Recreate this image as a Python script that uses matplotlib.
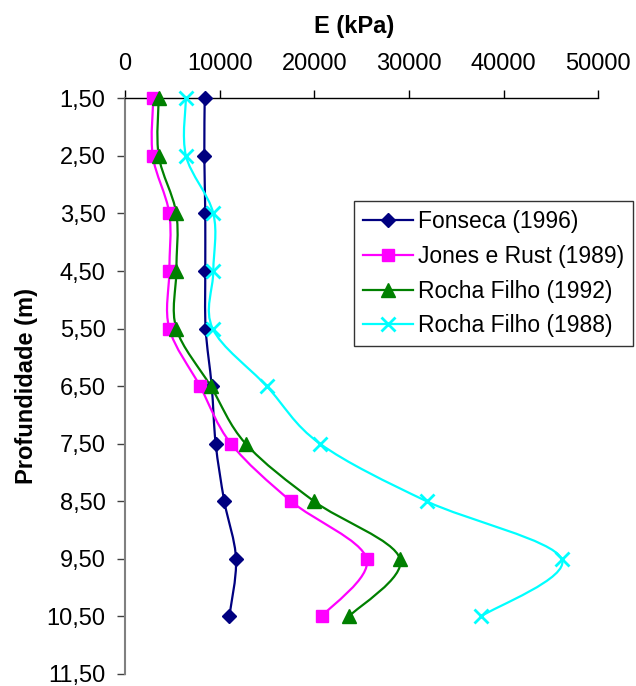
import matplotlib
matplotlib.use("Agg")
import matplotlib.pyplot as plt
from matplotlib.path import Path
from matplotlib.patches import PathPatch
from matplotlib.lines import Line2D
from matplotlib.ticker import FuncFormatter
import numpy as np

plt.rcParams['font.family'] = ['Liberation Sans', 'DejaVu Sans']

depth = [1.5, 2.5, 3.5, 4.5, 5.5, 6.5, 7.5, 8.5, 9.5, 10.5]
fonseca_1996 = [8420, 8380, 8480, 8480, 8520, 9160, 9580, 10490, 11730, 11020]
jones_rust_1989 = [2990, 2930, 4680, 4680, 4680, 7920, 11200, 17540, 25530, 20780]
rocha_filho_1992 = [3560, 3560, 5420, 5420, 5420, 9050, 12750, 19970, 29050, 23660]
rocha_filho_1988 = [6440, 6440, 9330, 9330, 9260, 14970, 20600, 31870, 46130, 37610]

series_names = ["Fonseca (1996)", "Jones e Rust (1989)", "Rocha Filho (1992)", "Rocha Filho (1988)"]
series_values = [fonseca_1996, jones_rust_1989, rocha_filho_1992, rocha_filho_1988]
colors = ["#000080", "#FF00FF", "#008000", "#00FFFF"]
markers = ["D", "s", "^", "x"]
msizes = [7, 9, 10, 10]

x_ticks = [0, 10000, 20000, 30000, 40000, 50000]
y_ticks = [1.5, 2.5, 3.5, 4.5, 5.5, 6.5, 7.5, 8.5, 9.5, 10.5, 11.5]


def smooth_path(xs, ys):
    pts = np.column_stack([xs, ys]).astype(float)
    n = len(pts)
    verts = [pts[0]]
    codes = [Path.MOVETO]
    for i in range(n - 1):
        p0 = pts[i - 1] if i > 0 else pts[i]
        p1 = pts[i]
        p2 = pts[i + 1]
        p3 = pts[i + 2] if i + 2 < n else pts[i + 1]
        c1 = p1 + (p2 - p0) / 6.0
        c2 = p2 - (p3 - p1) / 6.0
        verts += [c1, c2, p2]
        codes += [Path.CURVE4] * 3
    return Path(verts, codes)


fig = plt.figure(figsize=(6.36, 6.86), dpi=100)
ax = fig.add_axes([125 / 636, 1 - 674 / 686, (598.3 - 125) / 636, (674 - 98.3) / 686])

ax.set_xlim(0, 50000)
ax.set_ylim(11.5, 1.5)

handles = []
for name, vals, c, m, ms in zip(series_names, series_values, colors, markers, msizes):
    patch = PathPatch(smooth_path(vals, depth), facecolor='none', edgecolor=c,
                      lw=1.6, transform=ax.transData, clip_on=False)
    ax.add_patch(patch)
    mew = 2.0 if m == 'x' else 1.0
    ax.plot(vals, depth, linestyle='none', marker=m, color=c, markersize=ms,
            markeredgewidth=mew, clip_on=False, zorder=3)
    handles.append(Line2D([], [], color=c, marker=m, lw=1.6, markersize=ms,
                          markeredgewidth=mew, label=name))

ax.xaxis.tick_top()
ax.xaxis.set_label_position('top')
ax.set_xticks(x_ticks)
ax.set_yticks(y_ticks)
ax.yaxis.set_major_formatter(FuncFormatter(lambda v, p: f"{v:.2f}".replace('.', ',')))
ax.xaxis.set_major_formatter(FuncFormatter(lambda v, p: f"{int(v)}"))

for s in ['right', 'bottom']:
    ax.spines[s].set_visible(False)
ax.spines['top'].set_color('black')
ax.spines['top'].set_linewidth(1.0)
ax.spines['left'].set_color('#808080')
ax.spines['left'].set_linewidth(1.5)

ax.tick_params(axis='x', direction='out', length=5.5, width=1, color='black',
               labelsize=17, pad=11)
ax.tick_params(axis='y', direction='out', length=6, width=1, color='#404040',
               labelsize=17, pad=8)

ax.set_xlabel("E (kPa)", fontsize=17, fontweight='bold')
ax.set_ylabel("Profundidade (m)", fontsize=17, fontweight='bold')
ax.xaxis.set_label_coords((354 - 125) / 473.3, (674 - 33) / 575.7)
ax.yaxis.set_label_coords((38 - 125) / 473.3, (674 - 386.5) / 575.7)

leg = fig.legend(handles=handles, loc='upper left',
                 bbox_to_anchor=(354 / 636, 1 - 201 / 686),
                 fontsize=16.5, frameon=True, fancybox=False, shadow=False,
                 handlelength=2.2, handletextpad=0.22, borderpad=0.38,
                 labelspacing=0.52, borderaxespad=0)
leg.get_frame().set_edgecolor('black')
leg.get_frame().set_linewidth(1.0)

fig.savefig("out.png", dpi=100)
